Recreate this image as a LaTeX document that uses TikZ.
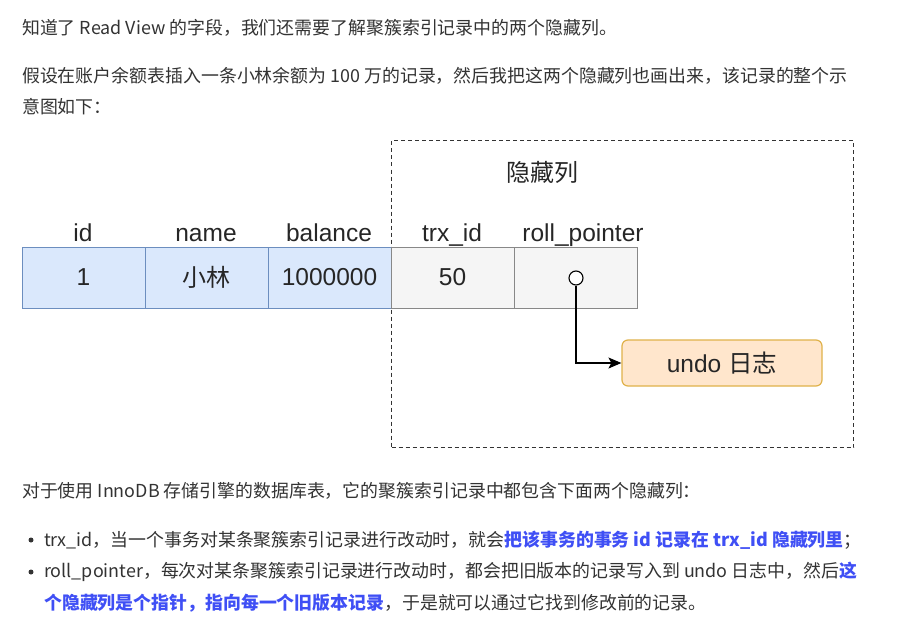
\documentclass[tikz,border=0pt]{standalone}
\usepackage{fontspec}
\setmainfont{Noto Sans CJK SC}
\newfontfamily\diag{Liberation Sans}
\newfontfamily\diagcjk{Noto Sans CJK SC}
\usetikzlibrary{arrows.meta}
\definecolor{txt}{HTML}{333333}
\definecolor{hl}{HTML}{3F4FF5}
\definecolor{bluef}{HTML}{DAE8FC}
\definecolor{blued}{HTML}{6C8EBF}
\definecolor{grayf}{HTML}{F5F5F5}
\definecolor{grayd}{HTML}{888888}
\definecolor{orf}{HTML}{FFE6CC}
\definecolor{ord}{HTML}{E0B24A}
\tikzset{
  para/.style={anchor=west,inner sep=0pt,text=txt,font=\fontsize{17.9}{21}\selectfont},
  hdr/.style={inner sep=0pt,anchor=base,font=\diag\fontsize{24.5}{28}\selectfont,text=black!85},
  bcell/.style={draw=blued,fill=bluef,line width=1pt,minimum width=123pt,minimum height=61pt,inner sep=0pt,font=\diag\fontsize{24.5}{28}\selectfont,text=black!85},
  gcell/.style={draw=grayd,fill=grayf,line width=1pt,minimum width=123pt,minimum height=61pt,inner sep=0pt,font=\diag\fontsize{24.5}{28}\selectfont,text=black!85},
  hidbox/.style={draw=black!80,line width=1pt,dash pattern=on 4pt off 3pt},
  undobox/.style={draw=ord,fill=orf,line width=1.2pt,rounded corners=6pt,minimum width=200pt,minimum height=46pt,inner sep=0pt,font=\diag\fontsize{24.5}{28}\selectfont,text=black!85},
  bul/.style={circle,fill=txt,inner sep=0pt,minimum size=5pt},
}
\begin{document}
\begin{tikzpicture}[x=1pt,y=-1pt]
\useasboundingbox[fill=white] (0,0) rectangle (907,634);
% paragraphs
\node[para] (p1) at (22,28) {知道了 Read View 的字段，我们还需要了解聚簇索引记录中的两个隐藏列。};
\node[para] (p2) at (22,76) {假设在账户余额表插入一条小林余额为 100 万的记录，然后我把这两个隐藏列也画出来，该记录的整个示};
\node[para] (p3) at (22,107) {意图如下：};
% hidden-column box
\node[hidbox,minimum width=462pt,minimum height=307pt,anchor=north west,inner sep=0pt] (hid) at (391,140) {};
\node[inner sep=0pt,font=\diagcjk\fontsize{24}{28}\selectfont,text=black!85] (hidt) at (542,172) {隐藏列};
% headers
\node[hdr] (h1) at (83,241) {id};
\node[hdr] (h2) at (206,241) {name};
\node[hdr] (h3) at (329,241) {balance};
\node[hdr] (h4) at (452,241) {trx\_id};
\node[hdr] (h5) at (583,241) {roll\_pointer};
% cells
\node[bcell] (c1) at (83.5,277.5) {1};
\node[bcell,font=\diagcjk\fontsize{24}{28}\selectfont] (c2) at (206.5,277.5) {小林};
\node[bcell] (c3) at (329.5,277.5) {1000000};
\node[gcell] (c4) at (452.5,277.5) {50};
\node[gcell] (c5) at (575.5,277.5) {};
\node[circle,draw=black,fill=white,line width=1.1pt,minimum size=14pt,inner sep=0pt] (ptr) at (576,278) {};
% undo box
\node[undobox] (undo) at (722,363) {undo {\diagcjk 日志}};
\draw[line width=1.1pt,-{Stealth[length=13pt,width=11pt,inset=3pt]}] (ptr.south) |- (undo.west);
% lower text
\node[para] (p4) at (22,491) {对于使用 InnoDB 存储引擎的数据库表，它的聚簇索引记录中都包含下面两个隐藏列：};
\node[bul] (b1) at (31,540) {};
\node[para] (p5) at (44,540) {trx\_id，当一个事务对某条聚簇索引记录进行改动时，就会{\color{hl}\bfseries 把该事务的事务 id 记录在 trx\_id 隐藏列里}；};
\node[bul] (b2) at (31,572) {};
\node[para] (p6) at (44,572) {roll\_pointer，每次对某条聚簇索引记录进行改动时，都会把旧版本的记录写入到 undo 日志中，然后{\color{hl}\bfseries 这}};
\node[para] (p7) at (44,603) {{\color{hl}\bfseries 个隐藏列是个指针，指向每一个旧版本记录}，于是就可以通过它找到修改前的记录。};
\end{tikzpicture}
\end{document}
